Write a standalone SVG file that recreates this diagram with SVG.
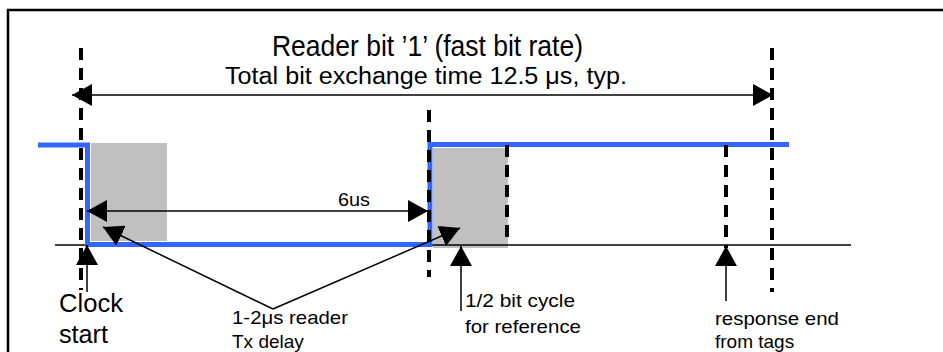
<svg xmlns="http://www.w3.org/2000/svg" width="943" height="352" viewBox="0 0 943 352">
<style>
text{font-family:"Liberation Sans",Arial,Helvetica,sans-serif;fill:#000}
.lbl{font-size:19px}
.big{font-size:26px}
.dash{stroke:#000;stroke-width:4;stroke-dasharray:12 8;fill:none}
.gray{fill:#c0c0c0}
.arr{stroke:#000;stroke-width:1.5;fill:none;marker-end:url(#ah)}
.arr2{stroke:#000;stroke-width:1.5;fill:none;marker-start:url(#ah);marker-end:url(#ah)}
</style>
<defs>
<marker id="ah" viewBox="0 0 20 22" refX="20" refY="11" markerWidth="20" markerHeight="22" markerUnits="userSpaceOnUse" orient="auto-start-reverse">
<path d="M0,0 L20,11 L0,22 z" fill="#000"/>
</marker>
</defs>
<rect width="943" height="352" fill="#fff"/>
<rect id="frame" x="8" y="10" width="945" height="360" fill="none" stroke="#000" stroke-width="2.5"/>
<g id="shading">
<rect class="gray" x="91" y="143" width="76" height="98"/>
<rect class="gray" x="433" y="148" width="75" height="100"/>
</g>
<line id="baseline" x1="55" y1="245" x2="851" y2="245" stroke="#000" stroke-width="1.6"/>
<path id="signal" d="M38,145 H87.5 V244.5 H430 V144.5 H789" fill="none" stroke="#3366ff" stroke-width="5"/>
<g id="markers">
<line class="dash" x1="81" y1="48" x2="81" y2="290"/>
<line class="dash" x1="429" y1="110" x2="429" y2="277"/>
<line class="dash" x1="507" y1="145" x2="507" y2="244"/>
<line class="dash" x1="726" y1="145" x2="726" y2="248"/>
<line class="dash" x1="772" y1="48" x2="772" y2="292"/>
</g>
<g id="connectors">
<line class="arr2" x1="72" y1="95" x2="773" y2="95"/>
<line class="arr2" x1="87" y1="211" x2="428" y2="211"/>
<line class="arr" x1="273" y1="309" x2="103" y2="227"/>
<line class="arr" x1="273" y1="309" x2="460" y2="228"/>
<line class="arr" x1="87" y1="292" x2="87" y2="245"/>
<line class="arr" x1="461" y1="311" x2="461" y2="246"/>
<line class="arr" x1="726" y1="301" x2="726" y2="246"/>
</g>
<g id="title">
<text x="272" y="56" font-size="30" textLength="311" lengthAdjust="spacingAndGlyphs">Reader bit ’1’ (fast bit rate)</text>
<text x="225" y="84" font-size="23" textLength="402" lengthAdjust="spacingAndGlyphs">Total bit exchange time 12.5 μs, typ.</text>
</g>
<g id="label-6us"><text class="lbl" x="338" y="206" textLength="32" lengthAdjust="spacingAndGlyphs">6us</text></g>
<g id="label-clock">
<text class="big" x="59" y="312" textLength="64" lengthAdjust="spacingAndGlyphs">Clock</text>
<text class="big" x="59" y="343" textLength="49" lengthAdjust="spacingAndGlyphs">start</text>
</g>
<g id="label-delay">
<text class="lbl" x="232" y="324" textLength="116" lengthAdjust="spacingAndGlyphs">1-2μs reader</text>
<text class="lbl" x="232" y="348">Tx delay</text>
</g>
<g id="label-half">
<text class="lbl" x="465" y="307" textLength="110" lengthAdjust="spacingAndGlyphs">1/2 bit cycle</text>
<text class="lbl" x="465" y="333" textLength="116" lengthAdjust="spacingAndGlyphs">for reference</text>
</g>
<g id="label-response">
<text class="lbl" x="715" y="325" textLength="124" lengthAdjust="spacingAndGlyphs">response end</text>
<text class="lbl" x="715" y="348">from tags</text>
</g>
</svg>
